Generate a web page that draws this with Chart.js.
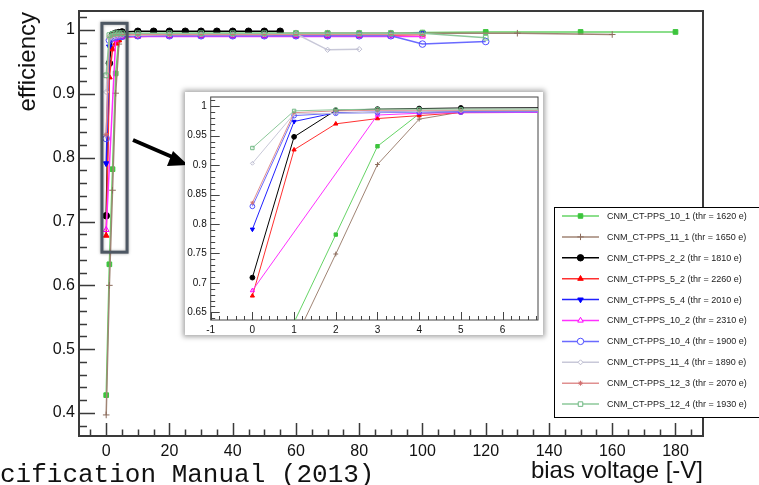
<!DOCTYPE html>
<html>
<head>
<meta charset="utf-8">
<script src="https://cdn.jsdelivr.net/npm/chart.js@4.4.0/dist/chart.umd.min.js"></script>
<style>
  html, body { margin: 0; padding: 0; background: #fff; }
  #wrap { position: relative; width: 759px; height: 485px; overflow: hidden; }
  #mainChart { position: absolute; left: 0; top: 0; }
  #insetBox { position: absolute; left: 185px; top: 92px; width: 358px; height: 243px; background: #fff;
              box-shadow: 0 0 5px 2px rgba(0, 0, 0, 0.35); }
</style>
</head>
<body>
<div id="wrap">
  <canvas id="mainChart" width="759" height="485"></canvas>
  <div id="insetBox"><canvas id="insetChart" width="358" height="243"></canvas></div>
</div>
<script>
// legend labels, one per sensor
const sensorNames = [
    'CNM_CT-PPS_10_1 (thr = 1620 e)',
    'CNM_CT-PPS_11_1 (thr = 1650 e)',
    'CNM_CT-PPS_2_2 (thr = 1810 e)',
    'CNM_CT-PPS_5_2 (thr = 2260 e)',
    'CNM_CT-PPS_5_4 (thr = 2010 e)',
    'CNM_CT-PPS_10_2 (thr = 2310 e)',
    'CNM_CT-PPS_10_4 (thr = 1900 e)',
    'CNM_CT-PPS_11_4 (thr = 1890 e)',
    'CNM_CT-PPS_12_3 (thr = 2070 e)',
    'CNM_CT-PPS_12_4 (thr = 1930 e)'
];

// bias voltage [-V] and efficiency
const volt10_1 = [0, 1, 2, 3, 4, 5, 10, 20, 30, 40, 50, 60, 70, 80, 90, 100, 120, 150, 180];
const eff10_1  = [0.428, 0.633, 0.782, 0.932, 0.987, 0.992, 0.994, 0.995, 0.995, 0.995, 0.995, 0.995, 0.995, 0.995, 0.995, 0.996, 0.997, 0.997, 0.997];

const volt11_1 = [0, 1, 2, 3, 4, 5, 10, 20, 30, 40, 50, 60, 70, 80, 90, 100, 130, 160];
const eff11_1  = [0.397, 0.600, 0.749, 0.901, 0.978, 0.990, 0.993, 0.994, 0.994, 0.994, 0.994, 0.995, 0.995, 0.995, 0.995, 0.995, 0.995, 0.993];

const volt2_2 = [0, 1, 2, 3, 4, 5, 10, 15, 20, 25, 30, 35, 40, 45, 50, 55];
const eff2_2  = [0.709, 0.948, 0.993, 0.995, 0.996, 0.997, 0.998, 0.998, 0.998, 0.998, 0.998, 0.998, 0.998, 0.998, 0.998, 0.998];

const volt5_2 = [0, 1, 2, 3, 4, 5, 10, 20, 30, 40, 50, 60, 70, 80, 90, 100];
const eff5_2  = [0.678, 0.926, 0.970, 0.979, 0.984, 0.989, 0.990, 0.991, 0.991, 0.991, 0.991, 0.991, 0.991, 0.991, 0.992, 0.993];

const volt5_4 = [0, 1, 2, 3, 4, 5, 10, 20, 30, 40, 50, 60, 70, 80, 90, 100];
const eff5_4  = [0.791, 0.974, 0.989, 0.990, 0.991, 0.991, 0.992, 0.992, 0.992, 0.992, 0.992, 0.992, 0.992, 0.993, 0.993, 0.995];

const volt10_2 = [0, 3, 4, 5, 10, 20, 30, 40, 50, 60, 70, 80, 90, 100];
const eff10_2  = [0.687, 0.985, 0.988, 0.989, 0.990, 0.990, 0.990, 0.990, 0.990, 0.990, 0.990, 0.990, 0.990, 0.990];

const volt10_4 = [0, 1, 2, 3, 4, 5, 10, 20, 30, 40, 50, 60, 70, 80, 90, 100, 120];
const eff10_4  = [0.830, 0.984, 0.988, 0.989, 0.990, 0.990, 0.991, 0.991, 0.991, 0.991, 0.991, 0.991, 0.991, 0.991, 0.991, 0.978, 0.982];

const volt11_4 = [0, 1, 2, 3, 4, 5, 10, 20, 30, 40, 50, 60, 70, 80];
const eff11_4  = [0.903, 0.987, 0.988, 0.990, 0.991, 0.992, 0.992, 0.993, 0.993, 0.993, 0.993, 0.994, 0.969, 0.970];

const volt12_3 = [0, 1, 2, 3, 4, 5, 10, 20, 30, 40, 50, 60, 70, 80, 90, 100];
const eff12_3  = [0.836, 0.989, 0.992, 0.993, 0.993, 0.993, 0.993, 0.993, 0.993, 0.993, 0.993, 0.993, 0.993, 0.993, 0.993, 0.993];

const volt12_4 = [0, 1, 2, 3, 4, 5, 10, 20, 30, 40, 50, 60, 70, 80, 90, 100, 120];
const eff12_4  = [0.929, 0.992, 0.994, 0.995, 0.995, 0.995, 0.995, 0.995, 0.995, 0.995, 0.995, 0.995, 0.995, 0.995, 0.995, 0.995, 0.988];

const allVolts = [volt10_1, volt11_1, volt2_2, volt5_2, volt5_4, volt10_2, volt10_4, volt11_4, volt12_3, volt12_4];
const allEffs  = [eff10_1, eff11_1, eff2_2, eff5_2, eff5_4, eff10_2, eff10_4, eff11_4, eff12_3, eff12_4];

// zoomed region shown in the inset
const zoomX = [-1.35, 6.6];
const zoomY = [0.652, 1.0105];

// look of each series
const lineColors   = ['#66d466', '#a08474', '#000000', '#ff3030', '#2020ff', '#ff30ff', '#6a6aff', '#c8c8d8', '#e09090', '#8cc89a'];
const markerColors = ['#3cc43c', '#8c6c5c', '#000000', '#ff0000', '#0000ff', '#ff00ff', '#5050ff', '#bcbcd0', '#d07070', '#70b884'];
const markerStyles = ['rect', 'cross', 'circle', 'triangle', 'triangle', 'triangle', 'circle', 'rectRot', 'star', 'rect'];
const markerFilled = [true, true, true, true, true, false, false, false, true, false];
const markerRotation = [0, 0, 0, 0, 180, 0, 0, 0, 0, 0];

Chart.defaults.font.family = '"Liberation Sans", Arial, Helvetica, sans-serif';
Chart.defaults.color = '#111';

function makeDatasets(radius, lineWidth) {
    return sensorNames.map((name, i) => ({
        label: name,
        data: allVolts[i].map((v, j) => ({x: v, y: allEffs[i][j]})),
        showLine: true,
        borderColor: lineColors[i],
        borderWidth: lineWidth,
        pointStyle: markerStyles[i],
        pointRotation: markerRotation[i],
        pointRadius: radius * (markerStyles[i] === 'rectRot' || markerStyles[i] === 'star' ? 0.8 : 1),
        pointBorderWidth: 1,
        pointBorderColor: markerColors[i],
        pointBackgroundColor: markerFilled[i] ? markerColors[i] : 'rgba(255,255,255,0)',
        tension: 0
    })).reverse();
}

function fmt(v) {
    return String(+v.toFixed(2));
}

// fixed axis box sizes, no extra room for edge labels
function fixSize(w, h) {
    return s => {
        if (w !== null) s.width = w;
        if (h !== null) s.height = h;
        s.paddingTop = 0;
        s.paddingBottom = 0;
        s.paddingLeft = 0;
        s.paddingRight = 0;
    };
}

// ROOT-like frame with inward major and minor ticks
const rootFrame = {
    id: 'rootFrame',
    beforeDatasetsDraw(chart, args, o) {
        const {ctx, chartArea: a, scales: {x, y}} = chart;
        ctx.save();
        ctx.strokeStyle = o.color;
        ctx.lineWidth = o.tickWidth;
        ctx.beginPath();
        for (let k = Math.ceil(x.min / o.xMinor); k * o.xMinor <= x.max; k++) {
            const v = k * o.xMinor;
            const px = Math.round(x.getPixelForValue(v)) + 0.5;
            const major = Math.abs(v / o.xMajor - Math.round(v / o.xMajor)) < 1e-6;
            ctx.moveTo(px, a.bottom);
            ctx.lineTo(px, a.bottom - (major ? o.xLen : o.xLen / 2));
        }
        for (let k = Math.ceil(y.min / o.yMinor); k * o.yMinor <= y.max; k++) {
            const v = k * o.yMinor;
            const py = Math.round(y.getPixelForValue(v)) + 0.5;
            const major = Math.abs(v / o.yMajor - Math.round(v / o.yMajor)) < 1e-6;
            ctx.moveTo(a.left, py);
            ctx.lineTo(a.left + (major ? o.yLen : o.yLen / 2), py);
        }
        ctx.stroke();
        ctx.lineWidth = o.lineWidth;
        ctx.strokeRect(a.left, a.top, a.right - a.left, a.bottom - a.top);
        ctx.restore();
    }
};

// titles, zoom box, arrow, legend and caption on the main plot
const mainDecor = {
    id: 'mainDecor',
    afterDraw(chart) {
        const {ctx, chartArea: a, scales: {x, y}} = chart;
        ctx.save();

        // zoom region box
        const x0 = x.getPixelForValue(zoomX[0]), x1 = x.getPixelForValue(zoomX[1]);
        const y0 = y.getPixelForValue(zoomY[1]), y1 = y.getPixelForValue(zoomY[0]);
        ctx.shadowColor = 'rgba(0,0,0,0.35)';
        ctx.shadowBlur = 3;
        ctx.strokeStyle = '#4d5763';
        ctx.lineWidth = 3;
        ctx.strokeRect(x0, y0, x1 - x0, y1 - y0);
        ctx.shadowBlur = 0;
        ctx.shadowColor = 'rgba(0,0,0,0)';

        // arrow pointing to the inset
        ctx.strokeStyle = '#000';
        ctx.fillStyle = '#000';
        ctx.lineWidth = 4;
        ctx.beginPath();
        ctx.moveTo(133, 140);
        ctx.lineTo(177, 159);
        ctx.stroke();
        ctx.beginPath();
        ctx.moveTo(188, 165);
        ctx.lineTo(173, 151);
        ctx.lineTo(167, 166);
        ctx.closePath();
        ctx.fill();

        // axis titles
        ctx.fillStyle = '#111';
        ctx.font = '24px "Liberation Sans", Arial, sans-serif';
        ctx.textAlign = 'right';
        ctx.textBaseline = 'alphabetic';
        ctx.fillText('bias voltage [-V]', a.right, 478);
        ctx.save();
        ctx.translate(35, a.top + 1);
        ctx.rotate(-Math.PI / 2);
        ctx.fillText('efficiency', 0, 0);
        ctx.restore();

        // caption cut at the page edge
        ctx.textAlign = 'left';
        ctx.font = '26px "Liberation Mono", "Courier New", monospace';
        ctx.fillText('cification Manual (2013)', 0, 482);

        // legend
        const lx = 554.5, ly = 207.5, rowH = 20.9;
        ctx.fillStyle = '#fff';
        ctx.fillRect(lx, ly, 260, 210);
        ctx.strokeStyle = '#000';
        ctx.lineWidth = 1;
        ctx.strokeRect(lx, ly, 260, 210);
        ctx.font = '9px "Liberation Sans", Arial, sans-serif';
        ctx.textBaseline = 'middle';
        sensorNames.forEach((name, i) => {
            const ry = 216 + i * rowH;
            ctx.strokeStyle = lineColors[i];
            ctx.lineWidth = 1.5;
            ctx.beginPath();
            ctx.moveTo(562, ry);
            ctx.lineTo(599, ry);
            ctx.stroke();
            ctx.strokeStyle = markerColors[i];
            ctx.fillStyle = markerFilled[i] ? markerColors[i] : '#fff';
            ctx.lineWidth = 1;
            Chart.helpers.drawPoint(ctx, {
                pointStyle: markerStyles[i],
                rotation: markerRotation[i],
                radius: markerStyles[i] === 'rectRot' || markerStyles[i] === 'star' ? 2.5 : 3.2,
                borderWidth: 1
            }, 580.5, ry);
            ctx.fillStyle = '#222';
            ctx.fillText(name, 607, ry + 0.5);
        });
        ctx.restore();
    }
};

const mainChart = new Chart(document.getElementById('mainChart'), {
    type: 'scatter',
    data: {datasets: makeDatasets(3.3, 1.5)},
    plugins: [rootFrame, mainDecor],
    options: {
        responsive: false,
        animation: false,
        devicePixelRatio: 1,
        layout: {padding: {left: 0, top: 11, right: 56, bottom: 0}},
        plugins: {
            legend: {display: false},
            tooltip: {enabled: false},
            rootFrame: {color: '#3a3a3a', lineWidth: 2, tickWidth: 1.5,
                        xMajor: 20, xMinor: 5, xLen: 13, yMajor: 0.1, yMinor: 0.02, yLen: 16}
        },
        scales: {
            x: {
                type: 'linear', min: -8.6, max: 188.7,
                grid: {display: false, drawTicks: false},
                border: {display: false},
                ticks: {stepSize: 20, includeBounds: false, padding: 6, font: {size: 16}, color: '#111', maxRotation: 0},
                afterFit: fixSize(null, 49)
            },
            y: {
                type: 'linear', min: 0.364, max: 1.0298,
                grid: {display: false, drawTicks: false},
                border: {display: false},
                ticks: {stepSize: 0.1, includeBounds: false, padding: 4, font: {size: 16}, color: '#111', callback: fmt},
                afterFit: fixSize(79, null)
            }
        }
    }
});

const insetChart = new Chart(document.getElementById('insetChart'), {
    type: 'scatter',
    data: {datasets: makeDatasets(2.4, 1)},
    plugins: [rootFrame],
    options: {
        responsive: false,
        animation: false,
        devicePixelRatio: 1,
        layout: {padding: {left: 0, top: 2, right: 2, bottom: 0}},
        plugins: {
            legend: {display: false},
            tooltip: {enabled: false},
            rootFrame: {color: '#444', lineWidth: 1, tickWidth: 1,
                        xMajor: 1, xMinor: 0.2, xLen: 8, yMajor: 0.05, yMinor: 0.01, yLen: 9}
        },
        scales: {
            x: {
                type: 'linear', min: -1, max: 6.85,
                grid: {display: false, drawTicks: false},
                border: {display: false},
                ticks: {stepSize: 1, includeBounds: false, padding: 4, font: {size: 10}, color: '#111', maxRotation: 0},
                afterFit: fixSize(null, 15)
            },
            y: {
                type: 'linear', min: 0.637, max: 1.0156,
                grid: {display: false, drawTicks: false},
                border: {display: false},
                ticks: {stepSize: 0.05, includeBounds: false, padding: 4, font: {size: 10}, color: '#111', callback: fmt},
                afterFit: fixSize(25.7, null)
            }
        }
    }
});
</script>
</body>
</html>
